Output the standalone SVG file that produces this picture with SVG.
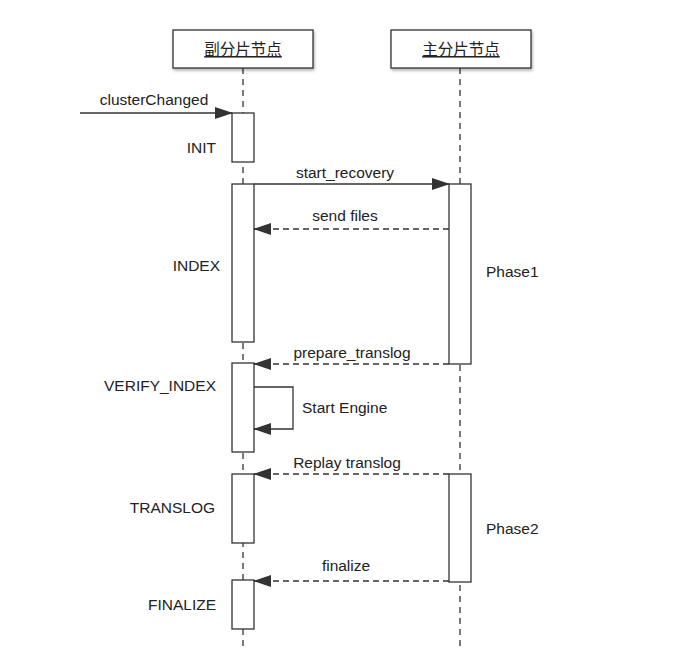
<svg xmlns="http://www.w3.org/2000/svg" width="686" height="665" viewBox="0 0 686 665">
<style>
.t{font-family:"Liberation Sans",Arial,sans-serif;font-size:15.5px;fill:#222}
.h{font-family:"Noto Sans CJK SC","Liberation Sans",sans-serif;font-size:15.5px;fill:#222;text-decoration:underline}
.life{stroke:#333;stroke-width:1.3;stroke-dasharray:6,5;fill:none}
.act{fill:#fff;stroke:#333;stroke-width:1.3}
.msg{stroke:#333;stroke-width:1.3;fill:none}
.dash{stroke-dasharray:6,4}
</style>
<defs>
<marker id="ah" markerWidth="18" markerHeight="12" refX="17" refY="6" orient="auto" markerUnits="userSpaceOnUse">
<path d="M0,0 L18,6 L0,12 Z" fill="#333"/>
</marker>
<filter id="sh" x="-10%" y="-10%" width="130%" height="140%"><feDropShadow dx="1" dy="2" stdDeviation="1.5" flood-color="#000" flood-opacity="0.3"/></filter>
</defs>
<rect width="686" height="665" fill="#fff"/>
<g id="lifelines">
<line class="life" x1="243" y1="68" x2="243" y2="646"/>
<line class="life" x1="460" y1="68" x2="460" y2="646"/>
</g>
<g id="replica">
<rect x="173" y="30" width="140" height="38" fill="#fff" stroke="#333" stroke-width="1.3" filter="url(#sh)"/>
<text class="h" x="243" y="55" text-anchor="middle">副分片节点</text>
</g>
<g id="primary">
<rect x="391" y="30" width="140" height="38" fill="#fff" stroke="#333" stroke-width="1.3" filter="url(#sh)"/>
<text class="h" x="461" y="55" text-anchor="middle">主分片节点</text>
</g>
<g id="init"><rect class="act" x="232" y="113" width="22" height="49"/><text class="t" x="216" y="153" text-anchor="end">INIT</text></g>
<g id="index"><rect class="act" x="232" y="184" width="22" height="158"/><text class="t" x="220" y="271" text-anchor="end">INDEX</text></g>
<g id="verify"><rect class="act" x="232" y="363" width="22" height="89"/><text class="t" x="216" y="391" text-anchor="end">VERIFY_INDEX</text></g>
<g id="translog"><rect class="act" x="232" y="474" width="22" height="69"/><text class="t" x="215" y="513" text-anchor="end">TRANSLOG</text></g>
<g id="finalize"><rect class="act" x="232" y="580" width="22" height="49"/><text class="t" x="216" y="610" text-anchor="end">FINALIZE</text></g>
<g id="phase1"><rect class="act" x="449" y="184" width="22" height="180"/><text class="t" x="486" y="277">Phase1</text></g>
<g id="phase2"><rect class="act" x="449" y="474" width="22" height="108"/><text class="t" x="486" y="534">Phase2</text></g>
<g id="connectors">
<line class="msg" x1="80" y1="113" x2="232" y2="113" marker-end="url(#ah)"/>
<text class="t" x="154" y="105" text-anchor="middle">clusterChanged</text>
<line class="msg" x1="254" y1="184" x2="449" y2="184" marker-end="url(#ah)"/>
<text class="t" x="345" y="178" text-anchor="middle">start_recovery</text>
<line class="msg dash" x1="449" y1="229" x2="254" y2="229" marker-end="url(#ah)"/>
<text class="t" x="345" y="221" text-anchor="middle">send files</text>
<line class="msg dash" x1="449" y1="364" x2="254" y2="364" marker-end="url(#ah)"/>
<text class="t" x="352" y="358" text-anchor="middle">prepare_translog</text>
<polyline class="msg" points="254,387 293,387 293,429 254,429" marker-end="url(#ah)"/>
<text class="t" x="302" y="413">Start Engine</text>
<line class="msg dash" x1="449" y1="474" x2="254" y2="474" marker-end="url(#ah)"/>
<text class="t" x="347" y="468" text-anchor="middle">Replay translog</text>
<line class="msg dash" x1="449" y1="581" x2="254" y2="581" marker-end="url(#ah)"/>
<text class="t" x="346" y="571" text-anchor="middle">finalize</text>
</g>
</svg>
